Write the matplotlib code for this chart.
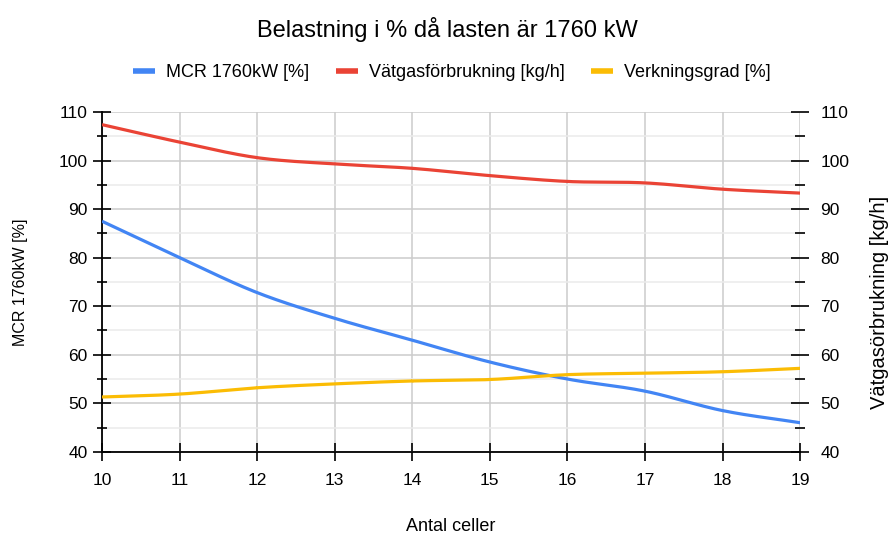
import numpy as np
import matplotlib.pyplot as plt
from matplotlib.ticker import MultipleLocator

plt.rcParams['font.family'] = ['Liberation Sans', 'DejaVu Sans']

celler = [10, 11, 12, 13, 14, 15, 16, 17, 18, 19]
mcr = [87.5, 80.0, 72.8, 67.5, 63.0, 58.5, 55.0, 52.5, 48.5, 46.0]
vatgas = [107.4, 103.8, 100.6, 99.3, 98.4, 96.9, 95.7, 95.4, 94.1, 93.3]
verkningsgrad = [51.3, 51.9, 53.2, 54.0, 54.6, 54.9, 55.9, 56.2, 56.5, 57.2]


def smooth(x, y, n=30):
    # Catmull-Rom spline through the points, for a rounded line
    x = np.asarray(x, float)
    y = np.asarray(y, float)
    px = np.concatenate([[2 * x[0] - x[1]], x, [2 * x[-1] - x[-2]]])
    py = np.concatenate([[2 * y[0] - y[1]], y, [2 * y[-1] - y[-2]]])
    xs, ys = [], []
    t = np.linspace(0, 1, n)
    for i in range(1, len(px) - 2):
        for p, out in ((px, xs), (py, ys)):
            p0, p1, p2, p3 = p[i - 1], p[i], p[i + 1], p[i + 2]
            out.extend(0.5 * ((2 * p1) + (-p0 + p2) * t
                              + (2 * p0 - 5 * p1 + 4 * p2 - p3) * t ** 2
                              + (-p0 + 3 * p1 - 3 * p2 + p3) * t ** 3))
    return np.array(xs), np.array(ys)


fig = plt.figure(figsize=(8.95, 5.36), dpi=100)
ax = fig.add_axes([0.114, 0.157, 0.78, 0.634])
ax2 = ax.twinx()

colors = ['#4285F4', '#EA4335', '#FBBC04']
labels = ['MCR 1760kW [%]', 'Vätgasförbrukning [kg/h]', 'Verkningsgrad [%]']
handles = []
for i, (serie, c, lab) in enumerate(zip([mcr, vatgas, verkningsgrad], colors, labels)):
    sx, sy = smooth(celler, serie)
    target = ax2 if i == 1 else ax
    h, = target.plot(sx, sy, color=c, lw=2.3, label=lab, solid_capstyle='butt', zorder=3)
    handles.append(h)

for a in (ax, ax2):
    a.set_ylim(40, 110)
    a.yaxis.set_major_locator(MultipleLocator(10))
    a.yaxis.set_minor_locator(MultipleLocator(5))
    a.tick_params(axis='y', which='major', direction='inout', length=13, width=1.2,
                  labelsize=12.5)
    a.tick_params(axis='y', which='minor', direction='inout', length=7, width=1.2)
    for s in a.spines.values():
        s.set_visible(False)
ax.tick_params(axis='y', which='major', pad=4)
ax2.tick_params(axis='y', which='major', pad=8)

ax.set_xlim(10, 19)
ax.set_xticks(celler)
ax.tick_params(axis='x', direction='inout', length=13, width=1.2, labelsize=12.5, pad=9)
ax.spines['left'].set_visible(True)
ax.spines['bottom'].set_visible(True)
ax.spines['left'].set_linewidth(1.3)
ax.spines['bottom'].set_linewidth(1.3)

ax.grid(True, which='major', color='#cccccc', lw=1.1, zorder=0)
ax.grid(True, which='minor', axis='y', color='#ebebeb', lw=1.1, zorder=0)
ax.set_axisbelow(True)

ax.set_xlabel('Antal celler', fontsize=13, labelpad=21)
ax.set_ylabel('MCR 1760kW [%]', fontsize=11.5, labelpad=22)
ax2.set_ylabel('Vätgasörbrukning [kg/h]', fontsize=14.5, rotation=90, labelpad=15)
ax2.yaxis.label.set_y(0.44)

fig.suptitle('Belastning i % då lasten är 1760 kW', fontsize=17, y=0.968)
fig.legend(handles=handles, loc='center', bbox_to_anchor=(0.505, 0.865), ncol=3,
           frameon=False, fontsize=13, handlelength=1.2, handletextpad=0.6,
           columnspacing=1.5, handleheight=0.7)
for h in fig.legends[0].get_lines():
    h.set_linewidth(4)

fig.savefig('out.png', dpi=100)
